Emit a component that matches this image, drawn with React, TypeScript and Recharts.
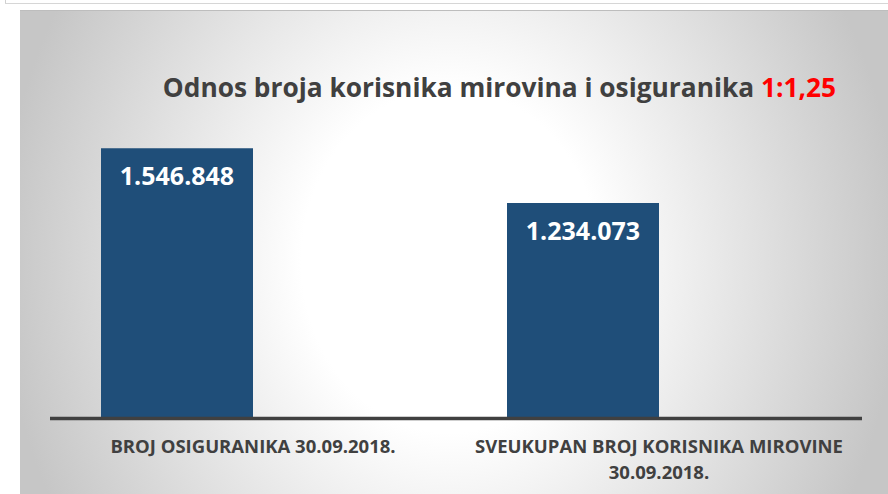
import React from "react";
import { BarChart, Bar, XAxis, YAxis, LabelList } from "recharts";

// data
const categories = ["BROJ OSIGURANIKA 30.09.2018.", "SVEUKUPAN BROJ KORISNIKA MIROVINE 30.09.2018."];
const tickLines = [["BROJ OSIGURANIKA 30.09.2018."], ["SVEUKUPAN BROJ KORISNIKA MIROVINE", "30.09.2018."]];
const counts = [1546848, 1234073];
// the original Excel chart has a second, empty series that pushes the bars left of the tick
const emptySeries = [null, null];
const yDomain = [0, 1800000];

const titleText = "Odnos broja korisnika mirovina i osiguranika ";
const titleRatio = "1:1,25";

const data = categories.map((name, i) => ({ name, count: counts[i], empty: emptySeries[i] }));

const FONT = "'Open Sans', 'Noto Sans', sans-serif";

const fmt = (v: number) => String(v).replace(/\B(?=(\d{3})+(?!\d))/g, ".");

const CategoryTick = (props: any) => {
  const { x, y, index } = props;
  const lines = tickLines[index] || [];
  return (
    <g>
      {lines.map((line, i) => (
        <text
          key={i}
          x={x}
          y={y + 34.5 + i * 25.5}
          textAnchor="middle"
          fill="#404040"
          style={{ fontFamily: FONT, fontWeight: 700, fontSize: 18.5 }}
        >
          {line}
        </text>
      ))}
    </g>
  );
};

const ValueLabel = (props: any) => {
  const { x, y, width, value } = props;
  if (value == null) return null;
  return (
    <text
      x={x + width / 2}
      y={y + 37}
      textAnchor="middle"
      fill="#ffffff"
      style={{ fontFamily: FONT, fontWeight: 700, fontSize: 25 }}
    >
      {fmt(value)}
    </text>
  );
};

const App = () => {
  return (
    <div style={{ position: "absolute", left: 0, top: 0, width: 888, height: 494, background: "#fff", overflow: "hidden" }}>
      {/* frame of the box above */}
      <div style={{ position: "absolute", left: 5, top: 0, width: 1, height: 4, background: "#d0d0d0" }} />
      <div style={{ position: "absolute", left: 5, top: 3, width: 883, height: 1, background: "#d6d6d6" }} />
      {/* chart area with radial gradient */}
      <div
        style={{
          position: "absolute",
          left: 20,
          top: 10,
          width: 868,
          height: 484,
          borderTop: "1px solid #bdbdbd",
          background: "radial-gradient(ellipse 450px 520px at 430px 250px, #ffffff 33%, #c6c6c6 100%)",
        }}
      />
      <svg width={888} height={494} style={{ position: "absolute", left: 0, top: 0 }}>
        <text
          x={499.5}
          y={97}
          textAnchor="middle"
          fill="#404040"
          style={{ fontFamily: FONT, fontWeight: 700, fontSize: 26.3 }}
        >
          {titleText}
          <tspan fill="#ff0000">{titleRatio}</tspan>
        </text>
      </svg>
      <div style={{ position: "absolute", left: 0, top: 0 }}>
        <BarChart
          width={888}
          height={494}
          data={data}
          margin={{ top: 104, right: 26, bottom: 0, left: 50 }}
          barGap={0}
        >
          <XAxis
            dataKey="name"
            height={75.5}
            axisLine={{ stroke: "#404040", strokeWidth: 3.5 }}
            tickLine={false}
            tickSize={0}
            tickMargin={0}
            interval={0}
            tick={<CategoryTick />}
          />
          <YAxis hide domain={yDomain} />
          <Bar dataKey="count" fill="#1f4e79" barSize={152} isAnimationActive={false}>
            <LabelList dataKey="count" content={<ValueLabel />} />
          </Bar>
          <Bar dataKey="empty" fill="#a5a5a5" barSize={152} isAnimationActive={false} />
        </BarChart>
      </div>
    </div>
  );
};

export default App;
